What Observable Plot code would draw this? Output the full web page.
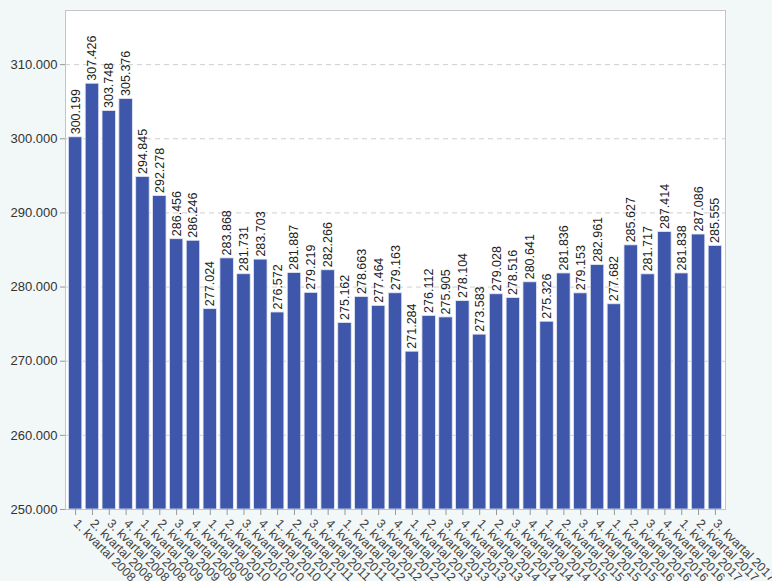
<!DOCTYPE html>
<html>
<head>
<meta charset="utf-8">
<script src="https://cdn.jsdelivr.net/npm/d3@7"></script>
<script src="https://cdn.jsdelivr.net/npm/@observablehq/plot@0.6"></script>
<style>
  html, body { margin: 0; padding: 0; background: #f2f7f7; }
  #chart { width: 772px; height: 581px; overflow: hidden; }
</style>
</head>
<body>
<div id="chart"></div>
<script>
const categories = [
  "1. kvartal 2008","2. kvartal 2008","3. kvartal 2008","4. kvartal 2008",
  "1. kvartal 2009","2. kvartal 2009","3. kvartal 2009","4. kvartal 2009",
  "1. kvartal 2010","2. kvartal 2010","3. kvartal 2010","4. kvartal 2010",
  "1. kvartal 2011","2. kvartal 2011","3. kvartal 2011","4. kvartal 2011",
  "1. kvartal 2012","2. kvartal 2012","3. kvartal 2012","4. kvartal 2012",
  "1. kvartal 2013","2. kvartal 2013","3. kvartal 2013","4. kvartal 2013",
  "1. kvartal 2014","2. kvartal 2014","3. kvartal 2014","4. kvartal 2014",
  "1. kvartal 2015","2. kvartal 2015","3. kvartal 2015","4. kvartal 2015",
  "1. kvartal 2016","2. kvartal 2016","3. kvartal 2016","4. kvartal 2016",
  "1. kvartal 2017","2. kvartal 2017","3. kvartal 2017"
];
const values = [
  300199, 307426, 303748, 305376,
  294845, 292278, 286456, 286246,
  277024, 283868, 281731, 283703,
  276572, 281887, 279219, 282266,
  275162, 278663, 277464, 279163,
  271284, 276112, 275905, 278104,
  273583, 279028, 278516, 280641,
  275326, 281836, 279153, 282961,
  277682, 285627, 281717, 287414,
  281838, 287086, 285555
];
const yTicks = [250000, 260000, 270000, 280000, 290000, 300000, 310000];
const gridTicks = [260000, 270000, 280000, 290000, 300000, 310000];

const data = categories.map((c, i) => ({cat: c, value: values[i]}));
const fmt = d3.formatLocale({decimal: ",", thousands: ".", grouping: [3]}).format(",d");
const base = 250000;

const chart = Plot.plot({
  width: 772,
  height: 581,
  marginLeft: 65,
  marginRight: 47,
  marginTop: 10,
  marginBottom: 72,
  style: {background: "transparent", fontFamily: "'Liberation Sans', Arial, sans-serif", fontSize: "12px", color: "#333", overflow: "visible"},
  x: {domain: categories, padding: 0.2, label: null},
  y: {domain: [250000, 317300], label: null},
  marks: [
    Plot.frame({fill: "white", stroke: null}),
    Plot.gridY(gridTicks, {stroke: "#cfcfcf", strokeOpacity: 1, strokeDasharray: "5,4"}),
    Plot.barY(data, {x: "cat", y1: base, y2: "value", fill: "#3e57ab", stroke: "#e4e8f4", strokeWidth: 0.8}),
    Plot.text(data, {x: "cat", y: "value", text: d => fmt(d.value), rotate: -90, textAnchor: "start", dy: -3, fill: "#222", fontSize: 12.5}),
    Plot.frame({stroke: "#c4c4c4", strokeWidth: 1}),
    Plot.axisY({ticks: yTicks, tickFormat: fmt, tickSize: 5, tickPadding: 3, stroke: "#999", fontSize: 13, fill: "#333", label: null}),
    Plot.axisX({tickRotate: 45, tickSize: 6, tickPadding: 6, stroke: "#999", fontSize: 12.5, fill: "#444", label: null})
  ]
});
document.getElementById("chart").appendChild(chart);
</script>
</body>
</html>
